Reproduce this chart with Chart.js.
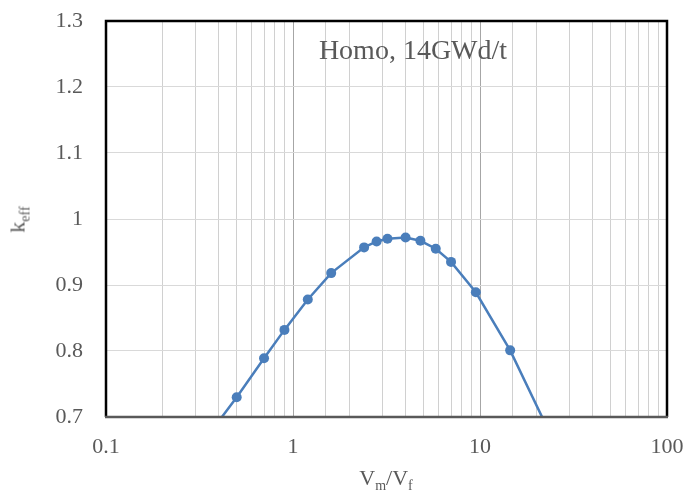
<!DOCTYPE html>
<html>
<head>
<meta charset="utf-8">
<script src="https://cdn.jsdelivr.net/npm/chart.js@4"></script>
<style>
  html, body { margin: 0; padding: 0; background: #fff; }
  #wrap { position: relative; width: 688px; height: 492px; }
  canvas { position: absolute; left: 0; top: 0; }
  .lbl { position: absolute; font-family: "Liberation Serif", "Times New Roman", serif; color: #595959; white-space: nowrap; }
  .sb { font-size: 14px; position: relative; top: 5px; }
</style>
</head>
<body>
<div id="wrap">
  <canvas id="c" width="688" height="492"></canvas>
  <div class="lbl" id="xt" style="font-size:22px; line-height:22px; left:0; width:772px; text-align:center; top:467px;">V<span class="sb">m</span>/V<span class="sb">f</span></div>
  <div class="lbl" id="yt" style="font-size:22px; line-height:22px; left:-21px; top:207px; width:80px; text-align:center; transform:rotate(-90deg);">k<span class="sb">eff</span></div>
  <div class="lbl" id="ann" style="font-size:28px; line-height:28px; left:213px; width:400px; text-align:center; top:36px;">Homo, 14GWd/t</div>
</div>
<script>
const vmvf = [0.3, 0.5, 0.7, 0.9, 1.2, 1.6, 2.4, 2.8, 3.2, 4.0, 4.8, 5.8, 7.0, 9.5, 14.5, 30];
const keff = [0.646, 0.730, 0.789, 0.832, 0.878, 0.918, 0.957, 0.966, 0.970, 0.972, 0.967, 0.955, 0.935, 0.889, 0.801, 0.614];
const xTickLabels = [0.1, 1, 10, 100];
const yTickLabels = [0.7, 0.8, 0.9, 1, 1.1, 1.2, 1.3];

const pts = vmvf.map((x, i) => ({ x: x, y: keff[i] }));
const isMajor = v => xTickLabels.some(t => Math.abs(Math.log10(v) - Math.log10(t)) < 1e-6);

const frame = {
  id: 'frame',
  afterDraw(chart) {
    const a = chart.chartArea, ctx = chart.ctx;
    ctx.save();
    ctx.lineWidth = 2.5;
    ctx.strokeStyle = '#000';
    ctx.beginPath();
    ctx.moveTo(a.left, a.bottom);
    ctx.lineTo(a.left, a.top);
    ctx.lineTo(a.right, a.top);
    ctx.lineTo(a.right, a.bottom);
    ctx.stroke();
    ctx.strokeStyle = '#595959';
    ctx.beginPath();
    ctx.moveTo(a.left - 1, a.bottom);
    ctx.lineTo(a.right + 1, a.bottom);
    ctx.stroke();
    ctx.restore();
  }
};

new Chart(document.getElementById('c'), {
  type: 'scatter',
  data: {
    datasets: [{
      data: pts,
      showLine: true,
      borderColor: '#4a7ebb',
      backgroundColor: '#4a7ebb',
      borderWidth: 2.5,
      pointRadius: 5,
      pointHoverRadius: 5,
      pointBorderWidth: 0,
      tension: 0
    }]
  },
  options: {
    responsive: false,
    animation: false,
    layout: { padding: { left: 0, right: 21, top: 21, bottom: 0 } },
    plugins: { legend: { display: false }, tooltip: { enabled: false } },
    scales: {
      x: {
        type: 'logarithmic',
        min: 0.1, max: 100,
        border: { display: false },
        grid: {
          drawTicks: false,
          color: c => (c.tick && isMajor(c.tick.value)) ? '#a6a6a6' : '#d0d0d0',
          lineWidth: 1
        },
        ticks: {
          autoSkip: false,
          maxRotation: 0,
          padding: 17,
          color: '#595959',
          font: { family: '"Liberation Serif", "Times New Roman", serif', size: 22 },
          callback: v => isMajor(v) ? String(xTickLabels.find(t => Math.abs(Math.log10(v) - Math.log10(t)) < 1e-6)) : ''
        },
        afterFit: s => { s.height = 75; s.paddingLeft = 0; s.paddingRight = 0; }
      },
      y: {
        min: 0.7, max: 1.3,
        border: { display: false },
        grid: { drawTicks: false, color: '#d9d9d9', lineWidth: 1 },
        ticks: {
          stepSize: 0.1,
          padding: 23,
          color: '#595959',
          font: { family: '"Liberation Serif", "Times New Roman", serif', size: 22 },
          callback: v => {
            const r = Math.round(v * 10) / 10;
            return yTickLabels.includes(r) ? String(r) : '';
          }
        },
        afterFit: s => { s.width = 106; s.paddingTop = 0; s.paddingBottom = 0; }
      }
    }
  },
  plugins: [frame]
});
</script>
</body>
</html>
